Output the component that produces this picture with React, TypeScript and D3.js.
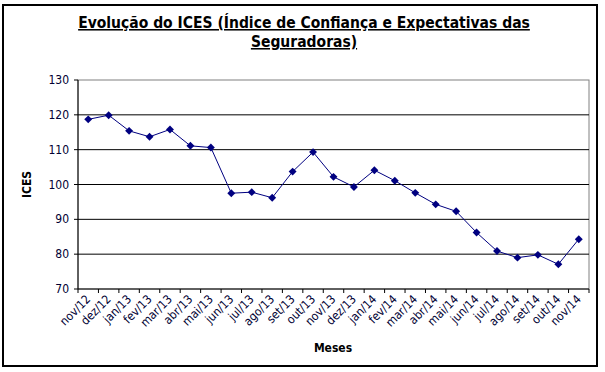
import * as d3 from "d3";

const months = [
  "nov/12", "dez/12", "jan/13", "fev/13", "mar/13", "abr/13", "mai/13", "jun/13",
  "jul/13", "ago/13", "set/13", "out/13", "nov/13", "dez/13", "jan/14", "fev/14",
  "mar/14", "abr/14", "mai/14", "jun/14", "jul/14", "ago/14", "set/14", "out/14", "nov/14",
];
const ices = [
  118.7, 119.9, 115.4, 113.7, 115.8, 111.1, 110.6, 97.5,
  97.8, 96.2, 103.7, 109.3, 102.2, 99.3, 104.1, 101.1,
  97.6, 94.3, 92.3, 86.2, 80.9, 79.0, 79.8, 77.1, 84.3,
];
const yTicks = [70, 80, 90, 100, 110, 120, 130];

const W = 605;
const H = 372;
const left = 78;
const right = 589;
const top = 80;
const bottom = 289;
const font = "Tahoma, 'DejaVu Sans Condensed', 'DejaVu Sans', sans-serif";
const ink = "#000033";

const App = () => {
  const x = d3.scaleBand().domain(months).range([left, right]);
  const y = d3.scaleLinear().domain([70, 130]).range([bottom, top]);
  const cx = (m: string) => (x(m) as number) + x.bandwidth() / 2;

  const line = d3
    .line<number>()
    .x((_, i) => cx(months[i]))
    .y((d) => y(d));

  const diamond = d3.symbol().type(d3.symbolDiamond2).size(40)();

  return (
    <svg
      width={W}
      height={H}
      style={{ position: "absolute", left: 0, top: 0, background: "#fff" }}
      fontFamily={font}
    >
      <rect x={3} y={5} width={594} height={361} fill="#fff" stroke="#000" strokeWidth={2} />

      <text x={304} y={28} textAnchor="middle" fontSize={15.5} fontWeight="bold" textDecoration="underline" fill="#000">
        Evolução do ICES (Índice de Confiança e Expectativas das
      </text>
      <text x={304} y={47} textAnchor="middle" fontSize={15.5} fontWeight="bold" textDecoration="underline" fill="#000">
        Seguradoras)
      </text>

      <rect x={left} y={top} width={right - left} height={bottom - top} fill="#fff" stroke="#808080" />

      {yTicks.map((t) => (
        <g key={t}>
          {t > 70 && t < 130 && (
            <line x1={left} x2={right} y1={y(t)} y2={y(t)} stroke="#000" />
          )}
          <line x1={left - 4} x2={left} y1={y(t)} y2={y(t)} stroke="#000" />
          <text x={left - 9} y={y(t) + 4} textAnchor="end" fontSize={12} fill={ink}>
            {t}
          </text>
        </g>
      ))}

      <line x1={left} x2={left} y1={top} y2={bottom} stroke="#000" />
      <line x1={left} x2={right} y1={bottom} y2={bottom} stroke="#000" />

      {months.map((m) => (
        <g key={m}>
          <line x1={x(m) as number} x2={x(m) as number} y1={bottom} y2={bottom + 4} stroke="#000" />
          <text
            transform={`translate(${cx(m)},${bottom + 8}) rotate(-45)`}
            textAnchor="end"
            fontSize={12}
            fill={ink}
            dy="0.35em"
          >
            {m}
          </text>
        </g>
      ))}
      <line x1={right} x2={right} y1={bottom} y2={bottom + 4} stroke="#000" />

      <path d={line(ices) || ""} fill="none" stroke="#000080" strokeWidth={1} />
      {ices.map((v, i) => (
        <path key={i} d={diamond || ""} transform={`translate(${cx(months[i])},${y(v)})`} fill="#000080" />
      ))}

      <text transform={`translate(31,${(top + bottom) / 2}) rotate(-90)`} textAnchor="middle" fontSize={12} fontWeight="bold" fill="#000">
        ICES
      </text>
      <text x={333} y={352} textAnchor="middle" fontSize={12} fontWeight="bold" fill="#000">
        Meses
      </text>
    </svg>
  );
};

export default App;
